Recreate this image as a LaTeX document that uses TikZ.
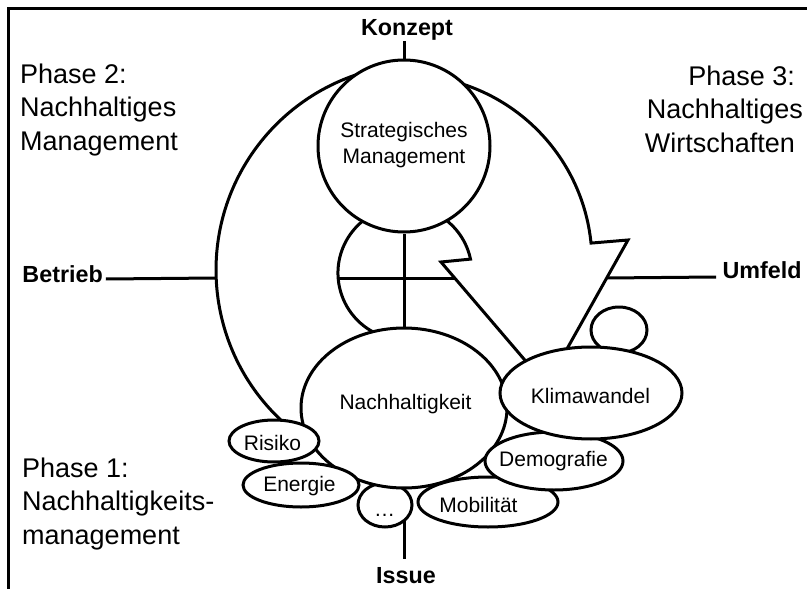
\documentclass[tikz,border=0pt]{standalone}
\usepackage{fontspec}
\setmainfont{Liberation Sans}
\usetikzlibrary{shapes.geometric,calc}
\begin{document}
\begin{tikzpicture}[x=1pt,y=-1pt,line width=3pt,line join=miter,
  bub/.style={ellipse,draw,fill=white,inner sep=0pt},
  lbl/.style={font=\fontsize{21}{26}\selectfont,inner sep=0pt,anchor=base},
  axislbl/.style={font=\fontsize{23.3}{28}\selectfont\bfseries,inner sep=0pt},
  phase/.style={font=\fontsize{27}{33.5}\selectfont,inner sep=0pt}]
\useasboundingbox (0,0) rectangle (807,589);
% frame
\draw[line width=3pt] (8,600) -- (8,8) -- (820,8);
% band arrow
\draw (289.6,427.8) arc[start angle=130,end angle=260,radius=206]
  -- (421.3,75.7) arc[start angle=275,end angle=354.2,radius=187]
  -- (628,240) -- (546.5,385.4) -- (441,262) -- (470.5,259.1)
  arc[start angle=-12,end angle=-250,radius=67];
% axis labels
\node[axislbl,anchor=base] (konzept) at (407,35) {Konzept};
\node[axislbl,anchor=base] (issue) at (406,583) {Issue};
\node[axislbl,anchor=base west] (betrieb) at (21,282) {Betrieb};
\node[axislbl,anchor=base east] (umfeld) at (803,278) {Umfeld};
\coordinate (oL) at (216,278);
\coordinate (iL) at (338,278);
\coordinate (iR) at (454.7,278);
\coordinate (oR) at (606.5,278);
\coordinate (vb) at (404,505);
\draw ([xshift=1.5pt,yshift=3pt]betrieb.base east) -- (oL);
\draw (iL) -- (iR);
\draw (oR) -- ([xshift=-5pt,yshift=1pt]umfeld.base west);
\draw (vb) -- ([yshift=6pt]issue.north -| vb);
% bubbles
\node[bub,minimum width=172pt,minimum height=172pt] (sm) at (404,146) {};
\node[bub,minimum width=54pt,minimum height=44pt] (dots) at (385,505) {};
\node[bub,minimum width=206pt,minimum height=160pt] (nach) at (404,408) {};
\node[bub,minimum width=90pt,minimum height=42pt] (risiko) at (274,441) {};
\node[bub,minimum width=116pt,minimum height=44pt] (energie) at (301,485) {};
\node[bub,minimum width=140pt,minimum height=50pt] (mobi) at (488,502) {};
\node[bub,minimum width=138pt,minimum height=58pt] (demo) at (554,461) {};
\node[bub,minimum width=56pt,minimum height=46pt] (small) at (619,330) {};
\node[bub,minimum width=182pt,minimum height=92pt] (klima) at (591,393) {};
% vertical axis
\draw (konzept.south -| sm.north) -- (sm.north);
\draw (sm.south) -- (nach.north);
% texts
\node[lbl] (tsm) at (404,137) {\begin{tabular}[t]{@{}c@{}}Strategisches\\Management\end{tabular}};
\node[lbl] (tnach) at (405.5,409) {Nachhaltigkeit};
\node[lbl] (tklima) at (590.5,403) {Klimawandel};
\node[lbl] (trisiko) at (272.5,450) {Risiko};
\node[lbl] (tenergie) at (299.5,491.7) {Energie};
\node[lbl] (tdemo) at (553.5,466.7) {Demografie};
\node[lbl] (tmobi) at (478.5,512.7) {Mobilität};
\node[lbl] (tdots) at (384.5,516.7) {…};
\node[phase,anchor=base west] (p2) at (18.7,83) {\begin{tabular}[t]{@{}l@{}}Phase 2:\\Nachhaltiges\\Management\end{tabular}};
\node[phase,anchor=base east] (p3) at (804.5,85) {\begin{tabular}[t]{@{}r@{}}Phase 3:\hspace*{8pt}\\Nachhaltiges\\Wirtschaften\hspace*{8pt}\end{tabular}};
\node[phase,anchor=base west] (p1) at (20.7,477) {\begin{tabular}[t]{@{}l@{}}Phase 1:\\Nachhaltigkeits-\\management\end{tabular}};
\end{tikzpicture}
\end{document}
